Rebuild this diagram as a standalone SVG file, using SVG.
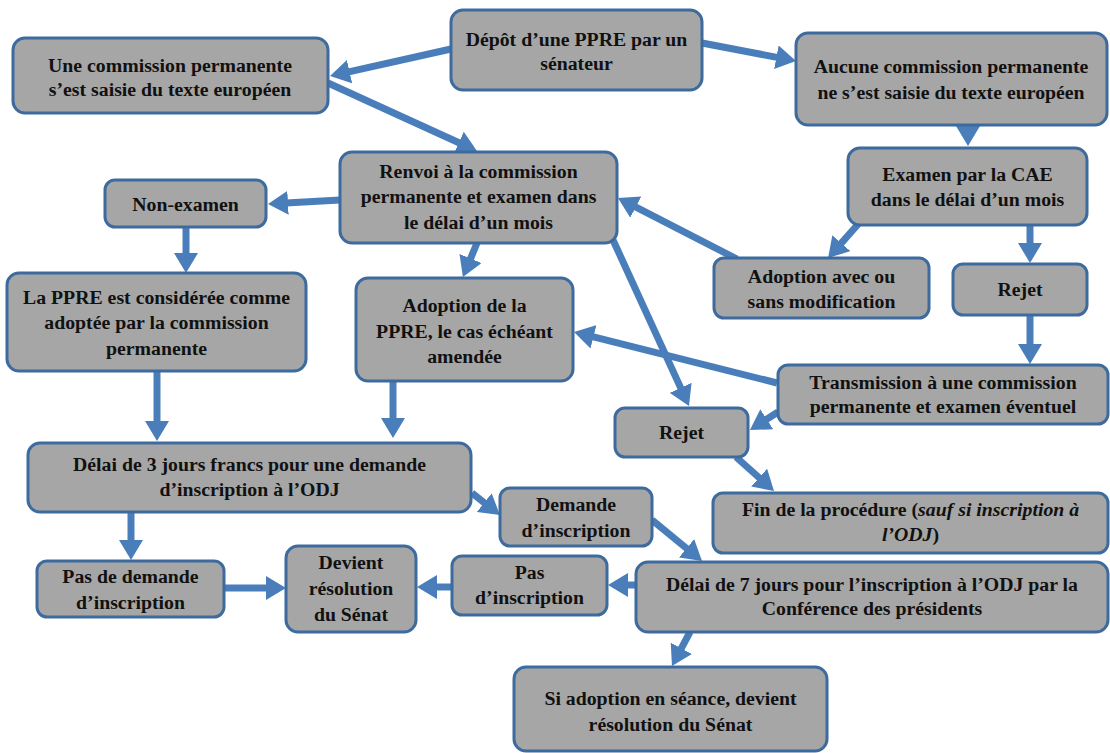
<svg xmlns="http://www.w3.org/2000/svg" width="1110" height="753" viewBox="0 0 1110 753">
<defs>
<style>
.box{fill:#a6a6a6;stroke:#3e6b9e;stroke-width:3}
.t{font-family:"Liberation Serif","Times New Roman",serif;font-weight:bold;font-size:19.8px;fill:#111;text-anchor:middle}
.it{font-style:italic}
.c{stroke:#4a7ebb;stroke-width:7;fill:none;marker-end:url(#ah)}
</style>
<marker id="ah" viewBox="0 -12 20 24" markerUnits="userSpaceOnUse" markerWidth="20" markerHeight="24" refX="2" refY="0" orient="auto">
<path d="M0,-12 L20,0 L0,12 z" fill="#4a7ebb"/>
</marker>
</defs>
<rect width="1110" height="753" fill="#fff"/>
<g id="connectors">
<line class="c" x1="451" y1="49" x2="347.6" y2="72.1"/>
<line class="c" x1="702" y1="43" x2="778.3" y2="57.6"/>
<line class="c" x1="328" y1="83" x2="460.6" y2="143.5"/>
<line class="c" x1="968" y1="124" x2="968" y2="128"/>
<line class="c" x1="340" y1="200" x2="286" y2="203"/>
<line class="c" x1="186" y1="227" x2="186" y2="255"/>
<line class="c" x1="477" y1="243" x2="469.8" y2="260.4"/>
<line class="c" x1="613" y1="240" x2="681.5" y2="389.6"/>
<line class="c" x1="737" y1="259" x2="634" y2="206.2"/>
<line class="c" x1="860" y1="222" x2="840" y2="244.6"/>
<line class="c" x1="1030" y1="225" x2="1030" y2="245"/>
<line class="c" x1="1030" y1="314" x2="1030" y2="346"/>
<line class="c" x1="777" y1="383" x2="591.5" y2="336.4"/>
<line class="c" x1="778" y1="412" x2="765.1" y2="420.3"/>
<line class="c" x1="736" y1="457" x2="760.6" y2="479"/>
<line class="c" x1="157" y1="371" x2="157" y2="423"/>
<line class="c" x1="393" y1="381" x2="393" y2="420"/>
<line class="c" x1="472" y1="493" x2="485.8" y2="503.9"/>
<line class="c" x1="131" y1="512" x2="131" y2="542"/>
<line class="c" x1="224" y1="588" x2="268" y2="588"/>
<line class="c" x1="452" y1="587" x2="435" y2="587"/>
<line class="c" x1="652" y1="520" x2="688.1" y2="549.6"/>
<line class="c" x1="636" y1="585" x2="626" y2="585"/>
<line class="c" x1="690" y1="632" x2="680.4" y2="650.1"/>
</g>
<g id="depot"><rect class="box" x="451" y="10" width="251" height="80" rx="12"/>
<text class="t" x="576.5" y="46">Dépôt d’une PPRE par un</text><text class="t" x="576.5" y="70">sénateur</text></g>
<g id="saisie"><rect class="box" x="13" y="38" width="315" height="75" rx="12"/>
<text class="t" x="170" y="72">Une commission permanente</text><text class="t" x="170" y="96">s’est saisie du texte européen</text></g>
<g id="aucune"><rect class="box" x="796" y="33" width="311" height="92" rx="12"/>
<text class="t" x="951" y="73">Aucune commission permanente</text><text class="t" x="951" y="99">ne s’est saisie du texte européen</text></g>
<g id="renvoi"><rect class="box" x="340" y="152" width="277" height="91" rx="12"/>
<text class="t" x="478.5" y="178">Renvoi à la commission</text><text class="t" x="478.5" y="203">permanente et examen dans</text><text class="t" x="478.5" y="229">le délai d’un mois</text></g>
<g id="examen"><rect class="box" x="848" y="148" width="239" height="77" rx="12"/>
<text class="t" x="967.5" y="181">Examen par la CAE</text><text class="t" x="967.5" y="206">dans le délai d’un mois</text></g>
<g id="nonexamen"><rect class="box" x="105" y="180" width="161" height="47" rx="10"/>
<text class="t" x="185.5" y="211">Non-examen</text></g>
<g id="consideree"><rect class="box" x="7" y="273" width="299" height="98" rx="12"/>
<text class="t" x="156.5" y="304">La PPRE est considérée comme</text><text class="t" x="156.5" y="329">adoptée par la commission</text><text class="t" x="156.5" y="355">permanente</text></g>
<g id="adoptionppre"><rect class="box" x="356" y="278" width="217" height="103" rx="12"/>
<text class="t" x="464.5" y="312">Adoption de la</text><text class="t" x="464.5" y="338">PPRE, le cas échéant</text><text class="t" x="464.5" y="363">amendée</text></g>
<g id="adoptionavec"><rect class="box" x="714" y="258" width="215" height="60" rx="10"/>
<text class="t" x="821.5" y="283">Adoption avec ou</text><text class="t" x="821.5" y="308">sans modification</text></g>
<g id="rejet1"><rect class="box" x="953" y="264" width="134" height="51" rx="10"/>
<text class="t" x="1020" y="296">Rejet</text></g>
<g id="transmission"><rect class="box" x="778" y="365" width="330" height="59" rx="10"/>
<text class="t" x="943" y="389">Transmission à une commission</text><text class="t" x="943" y="413">permanente et examen éventuel</text></g>
<g id="rejet2"><rect class="box" x="615" y="408" width="133" height="49" rx="10"/>
<text class="t" x="681.5" y="439">Rejet</text></g>
<g id="delai3"><rect class="box" x="28" y="443" width="443" height="69" rx="12"/>
<text class="t" x="249.5" y="471">Délai de 3 jours francs pour une demande</text><text class="t" x="249.5" y="496">d’inscription à l’ODJ</text></g>
<g id="demande"><rect class="box" x="500" y="488" width="152" height="58" rx="10"/>
<text class="t" x="576" y="511">Demande</text><text class="t" x="576" y="537">d’inscription</text></g>
<g id="fin"><rect class="box" x="713" y="493" width="395" height="60" rx="10"/>
<text class="t" x="910.5" y="516">Fin de la procédure (<tspan class="it">sauf si inscription à</tspan></text><text class="t" x="910.5" y="541"><tspan class="it">l’ODJ</tspan>)</text></g>
<g id="pasdemande"><rect class="box" x="37" y="561" width="187" height="56" rx="10"/>
<text class="t" x="130.5" y="583">Pas de demande</text><text class="t" x="130.5" y="609">d’inscription</text></g>
<g id="devient"><rect class="box" x="286" y="546" width="130" height="86" rx="12"/>
<text class="t" x="351" y="569">Devient</text><text class="t" x="351" y="595">résolution</text><text class="t" x="351" y="621">du Sénat</text></g>
<g id="pasinscription"><rect class="box" x="452" y="556" width="155" height="59" rx="10"/>
<text class="t" x="529.5" y="579">Pas</text><text class="t" x="529.5" y="604">d’inscription</text></g>
<g id="delai7"><rect class="box" x="636" y="562" width="472" height="70" rx="12"/>
<text class="t" x="872" y="591">Délai de 7 jours pour l’inscription à l’ODJ par la</text><text class="t" x="872" y="615">Conférence des présidents</text></g>
<g id="siadoption"><rect class="box" x="514" y="667" width="313" height="84" rx="12"/>
<text class="t" x="670.5" y="705">Si adoption en séance, devient</text><text class="t" x="670.5" y="731">résolution du Sénat</text></g>
</svg>
